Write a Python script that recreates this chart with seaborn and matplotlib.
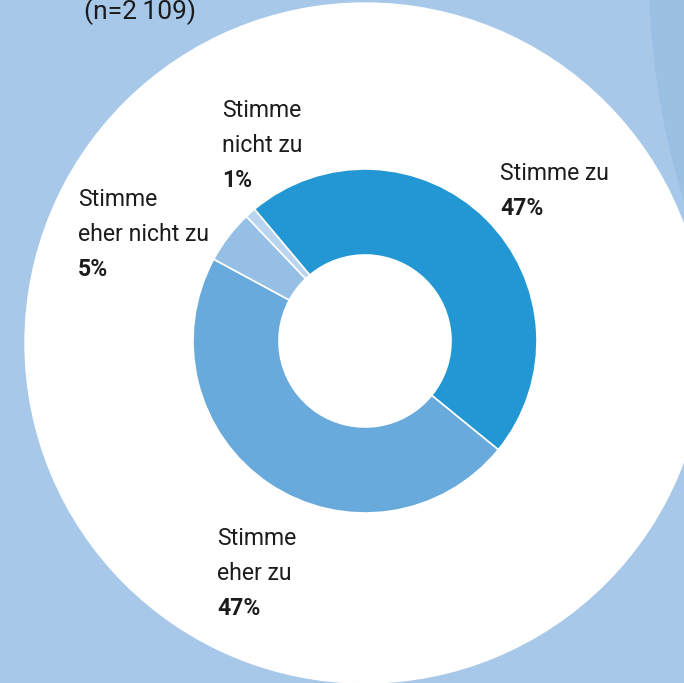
import matplotlib
matplotlib.use("Agg")
import matplotlib.pyplot as plt
from matplotlib.patches import Circle
import seaborn as sns

# ---- data ----
categories = ["Stimme zu", "Stimme eher zu", "Stimme eher nicht zu", "Stimme nicht zu"]
values = [47, 47, 5, 1]
label_lines = [["Stimme zu"], ["Stimme", "eher zu"], ["Stimme", "eher nicht zu"], ["Stimme", "nicht zu"]]
pct_labels = ["47%", "47%", "5%", "1%"]
sample_note = "(n=2\u2009109)"

colors = ["#2397d3", "#68aadb", "#95bfe4", "#b9d4ee"]

sns.set_theme(style="white")
plt.rcParams["font.family"] = ["Roboto", "DejaVu Sans"]

W, H = 684, 683
fig = plt.figure(figsize=(W / 100, H / 100), dpi=100)
fig.patch.set_facecolor("#a7c8e8")
ax = fig.add_axes([0, 0, 1, 1])
ax.set_facecolor("#a7c8e8")

def py(y):
    return H - y

# decorative background shapes
ax.add_patch(Circle((1398, py(-24)), 748, color="#9cbfe4", zorder=0))
ax.add_patch(Circle((365, py(343)), 340, color="white", zorder=1))

wedges, _ = ax.pie(values, colors=colors, startangle=130, counterclock=False,
                   center=(365, py(341)), radius=172,
                   wedgeprops=dict(width=86, edgecolor="white", linewidth=1.2))
for w in wedges:
    w.set_zorder(2)

ax.set_xlim(0, W)
ax.set_ylim(0, H)
ax.set_aspect("equal")
ax.axis("off")

txt_color = "#1c1c1c"
fs = 16.6
# label positions (left x, first baseline y in px)
positions = [(500, 180), (217, 545), (78, 206), (222, 117)]
step = 35
for lines, pct, (x, y0) in zip(label_lines, pct_labels, positions):
    y = y0
    for ln in lines:
        ax.text(x, py(y), ln, fontsize=fs, color=txt_color, ha="left", va="baseline", zorder=5)
        y += step
    ax.text(x, py(y), pct, fontsize=fs, color=txt_color, fontweight="bold",
            ha="left", va="baseline", zorder=5)

ax.text(84, py(19), sample_note, fontsize=19, color=txt_color, ha="left", va="baseline", zorder=5)

fig.savefig("out.png", dpi=100, facecolor=fig.get_facecolor())
